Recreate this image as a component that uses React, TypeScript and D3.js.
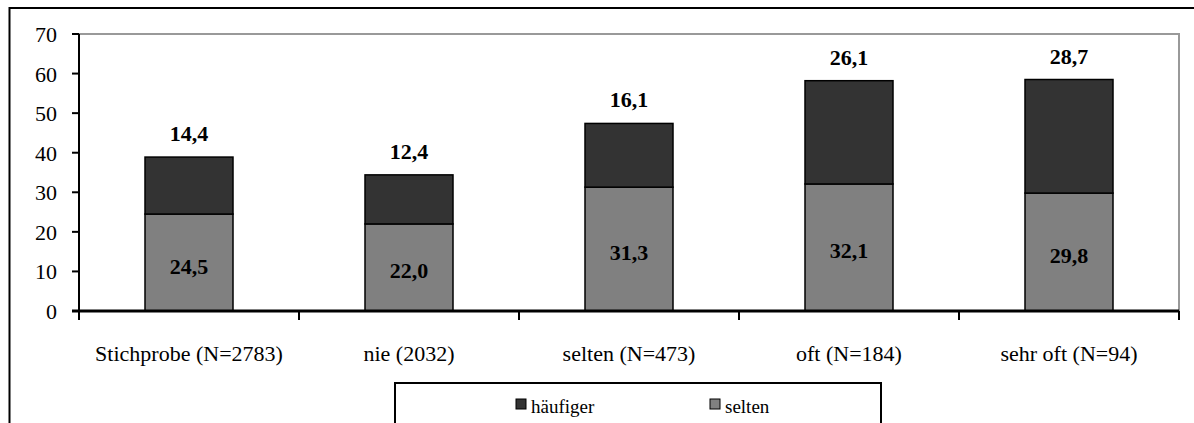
import React from "react";
import * as d3 from "d3";

// Categories and stacked series values (percent)
const categories = [
  "Stichprobe (N=2783)",
  "nie (2032)",
  "selten (N=473)",
  "oft (N=184)",
  "sehr oft (N=94)",
];
const seltenValues = [24.5, 22.0, 31.3, 32.1, 29.8];
const haeufigerValues = [14.4, 12.4, 16.1, 26.1, 28.7];
const seriesNames = ["häufiger", "selten"];
const yTicks = [0, 10, 20, 30, 40, 50, 60, 70];

const W = 1194;
const H = 423;
const plot = { left: 79, right: 1179, top: 34, bottom: 311 };
const FONT = "Liberation Serif";
const COLOR_SELTEN = "#808080";
const COLOR_HAEUFIGER = "#333333";

const fmt = (v: number) => v.toFixed(1).replace(".", ",");

function T(props: any) {
  return <text fontFamily={FONT} fill="#000" {...props} />;
}

export default function App() {
  const x = d3
    .scaleBand<string>()
    .domain(categories)
    .range([plot.left, plot.right])
    .paddingInner(0.6)
    .paddingOuter(0.3);
  const band = d3.scaleBand<string>().domain(categories).range([plot.left, plot.right]);
  const y = d3.scaleLinear().domain([0, 70]).range([plot.bottom, plot.top]);

  const rows = categories.map((c, i) => ({
    cat: c,
    selten: seltenValues[i],
    haeufiger: haeufigerValues[i],
  }));
  const stack = d3.stack<any>().keys(["selten", "haeufiger"])(rows);

  const bw = x.bandwidth();

  return (
    <svg
      width={W}
      height={H}
      style={{ position: "absolute", left: 0, top: 0, background: "#fff" }}
    >
      {/* outer frame */}
      <rect x={9.5} y={8} width={W + 20} height={H + 20} fill="none" stroke="#000" strokeWidth={2} />

      {/* plot area border (top and right) */}
      <path
        d={`M${plot.left},${plot.top}H${plot.right}V${plot.bottom}`}
        fill="none"
        stroke="#999"
        strokeWidth={2}
      />

      {/* bars */}
      {stack.map((layer, li) =>
        layer.map((d, i) => {
          const cat = categories[i];
          const x0 = x(cat)!;
          const yTop = y(d[1]);
          const yBot = y(d[0]);
          return (
            <rect
              key={`${li}-${i}`}
              x={x0}
              y={yTop}
              width={bw}
              height={yBot - yTop}
              fill={li === 0 ? COLOR_SELTEN : COLOR_HAEUFIGER}
              stroke="#000"
              strokeWidth={1.5}
            />
          );
        })
      )}

      {/* value labels */}
      {rows.map((r, i) => {
        const cx = x(r.cat)! + bw / 2;
        const mid = (y(0) + y(r.selten)) / 2;
        const top = y(r.selten + r.haeufiger);
        return (
          <g key={`lbl-${i}`}>
            <T x={cx} y={mid + 11} fontWeight="bold" fontSize={22} textAnchor="middle">{fmt(r.selten)}</T>
            <T x={cx} y={top - 16} fontWeight="bold" fontSize={22} textAnchor="middle">{fmt(r.haeufiger)}</T>
          </g>
        );
      })}

      {/* y axis */}
      <line x1={plot.left} x2={plot.left} y1={plot.top} y2={plot.bottom} stroke="#000" strokeWidth={2} />
      {yTicks.map((t) => (
        <g key={`yt-${t}`}>
          <line x1={plot.left - 7} x2={plot.left} y1={y(t)} y2={y(t)} stroke="#000" strokeWidth={2} />
          <T x={57} y={y(t) + 8} textAnchor="end" fontSize={22}>
            {t}
          </T>
        </g>
      ))}

      {/* x axis */}
      <line x1={plot.left - 7} x2={plot.right} y1={plot.bottom} y2={plot.bottom} stroke="#000" strokeWidth={3} />
      {[...categories.map((c) => band(c)!), plot.right].map((bx, i) => (
        <line key={`xt-${i}`} x1={bx} x2={bx} y1={plot.bottom} y2={plot.bottom + 9} stroke="#000" strokeWidth={2} />
      ))}
      {categories.map((c) => (
        <T
          key={`xl-${c}`}
          x={band(c)! + band.bandwidth() / 2}
          y={361}
          textAnchor="middle"
          fontSize={22}
        >
          {c}
        </T>
      ))}

      {/* legend */}
      <rect x={395} y={383} width={486} height={60} fill="#fff" stroke="#000" strokeWidth={2} />
      {seriesNames.map((name, i) => {
        const lx = i === 0 ? 516 : 710;
        return (
          <g key={`lg-${name}`}>
            <rect
              x={lx}
              y={399}
              width={10}
              height={10}
              fill={i === 0 ? COLOR_HAEUFIGER : COLOR_SELTEN}
              stroke="#000"
              strokeWidth={1}
            />
            <T x={lx + 15} y={413} fontSize={19}>
              {name}
            </T>
          </g>
        );
      })}
    </svg>
  );
}
